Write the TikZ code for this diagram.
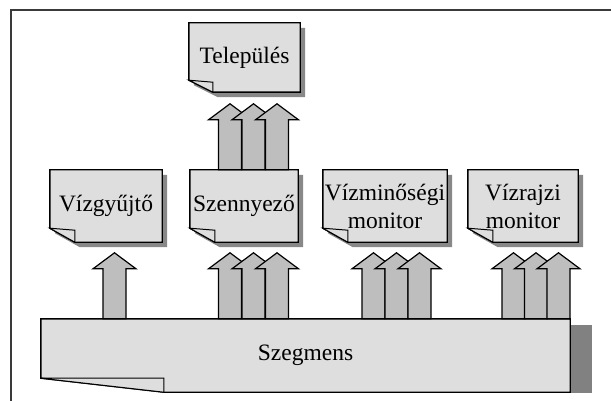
\documentclass[tikz,border=0pt]{standalone}
\usepackage{fontspec}
\setmainfont{Liberation Serif}
\usetikzlibrary{backgrounds}
\definecolor{boxgray}{HTML}{DEDEDE}
\definecolor{arrowgray}{HTML}{BEBEBE}
\definecolor{shadowgray}{HTML}{888888}
\definecolor{framegray}{HTML}{3A3A3A}
\begin{document}
\begin{tikzpicture}[x=1pt, y=-1pt,
		docnode/.style = {inner sep=0pt,
		                  align=center,
		                  font=\fontsize{23.5}{28}\selectfont},
		docline/.style = {draw=black,
		                  line width=1.4pt,
		                  fill=boxgray},
		fatarrow/.style = {draw=black,
		                   line width=1.2pt,
		                   fill=arrowgray},
		fatup/.pic = {\path[fatarrow] (-11.5,0) -- (-11.5,-50) -- (-21.5,-50) -- (0,-66)
		                              -- (21.5,-50) -- (11.5,-50) -- (11.5,0) -- cycle;}]
	\useasboundingbox (0,0) rectangle (611,401);
	\draw[framegray, line width=1.5pt] (611,10) -- (11,10) -- (11,401);
	% boxes
	\node[docnode, minimum width=111pt, minimum height=69pt] (telep) at (244.5,57.5) {Település};
	\node[docnode, minimum width=112pt, minimum height=72pt] (vizgy) at (106,206) {Vízgyűjtő};
	\node[docnode, minimum width=108pt, minimum height=72pt] (szenny) at (244,206) {Szennyező};
	\node[docnode, minimum width=124pt, minimum height=72pt] (vizmin) at (385,206) {Vízminőségi\\monitor};
	\node[docnode, minimum width=110pt, minimum height=72pt] (vizraj) at (523,206) {Vízrajzi\\monitor};
	\node[docnode, minimum width=529pt, minimum height=73pt] (seg) at (305.5,355.5) {Szegmens};
	\begin{scope}[on background layer]
		\foreach \n/\fw/\fh in {telep/24/12, vizgy/25/14, szenny/25/14, vizmin/25/14, vizraj/25/14}{
			\fill[shadowgray] ([shift={(5,5)}]\n.north west) -- ([shift={(5,5)}]\n.north east)
				-- ([shift={(5,5)}]\n.south east) -- ([shift={(\fw+5,5)}]\n.south west)
				-- ([shift={(5,5-\fh)}]\n.south west) -- cycle;
			\path[docline] (\n.north west) -- (\n.north east) -- (\n.south east)
				-- ([shift={(\fw,0)}]\n.south west) -- ([shift={(0,-\fh)}]\n.south west) -- cycle;
			\path[docline, line width=1pt] ([shift={(0,-\fh)}]\n.south west)
				-- ([shift={(\fw,2-\fh)}]\n.south west) -- ([shift={(\fw,0)}]\n.south west) -- cycle;
		}
		% segment box
		\fill[shadowgray!95!black] ([shift={(0,6)}]seg.north east) rectangle ([shift={(22,1)}]seg.south east);
		\path[docline] (seg.north west) -- (seg.north east) -- (seg.south east)
			-- ([shift={(123,0)}]seg.south west) -- ([shift={(0,-14)}]seg.south west) -- cycle;
		\path[docline, line width=1pt] ([shift={(0,-14)}]seg.south west)
			-- ([shift={(123,-14)}]seg.south west) -- ([shift={(123,0)}]seg.south west) -- cycle;
	\end{scope}
	% arrows
	\pic at (114.5,0 |- seg.north) {fatup};
	\foreach \x in {230,253.5,277}
		\pic at (\x,0 |- seg.north) {fatup};
	\foreach \x in {230,253.5,277}
		\pic at (\x,0 |- szenny.north) {fatup};
	\foreach \x in {373.5,396.5,419.5}
		\pic at (\x,0 |- seg.north) {fatup};
	\foreach \x in {513.5,536,558.5}
		\pic at (\x,0 |- seg.north) {fatup};
\end{tikzpicture}
\end{document}
